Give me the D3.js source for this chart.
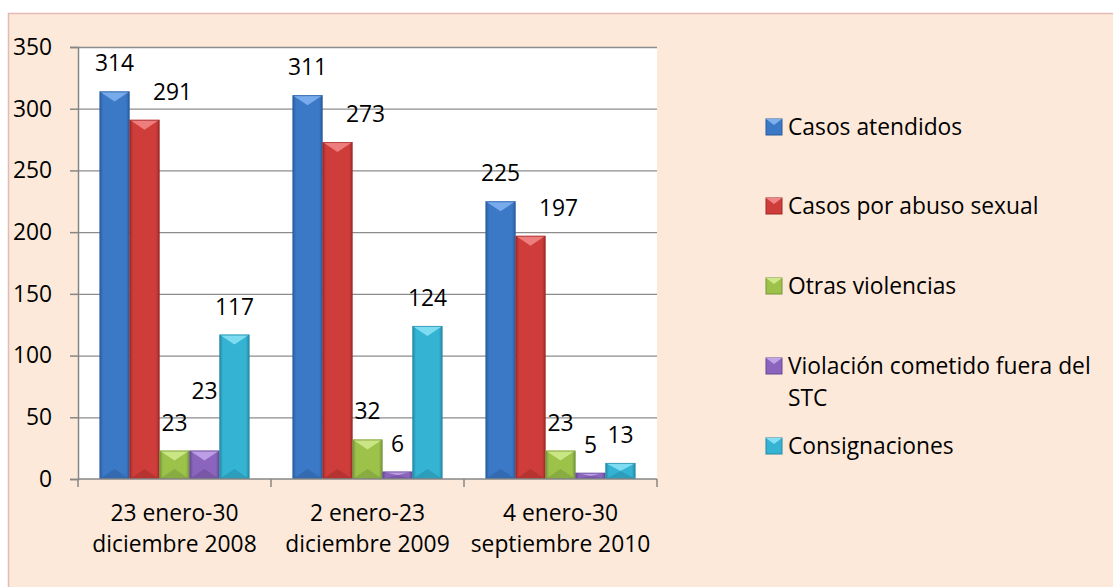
<!DOCTYPE html>
<html lang="es">
<head>
<meta charset="UTF-8" />
<title>Casos atendidos</title>
<script src="https://d3js.org/d3.v7.min.js"></script>
<style>
  html, body { margin: 0; padding: 0; background: #fff; }
  svg { display: block; font-family: "Open Sans", Lato, sans-serif; }
</style>
</head>
<body>
<svg width="1113" height="587"></svg>
<script>
  // data
  const categories = [
    ["23 enero-30", "diciembre 2008"],
    ["2 enero-23", "diciembre 2009"],
    ["4 enero-30", "septiembre 2010"]
  ];
  const seriesNames = [
    "Casos atendidos",
    "Casos por abuso sexual",
    "Otras violencias",
    "Violación cometido fuera del STC",
    "Consignaciones"
  ];
  const casosAtendidos = [314, 311, 225];
  const casosAbuso = [291, 273, 197];
  const otrasViolencias = [23, 32, 23];
  const violacionFuera = [23, 6, 5];
  const consignaciones = [117, 124, 13];
  const yTicks = [0, 50, 100, 150, 200, 250, 300, 350];

  const seriesValues = [casosAtendidos, casosAbuso, otrasViolencias, violacionFuera, consignaciones];
  const colors = [
    { base: "#3b78c6", light: "#7fb0ee", dark: "#2b5c9e" },
    { base: "#cf3d3b", light: "#f08585", dark: "#9e2a28" },
    { base: "#9cc24a", light: "#cfe98a", dark: "#76963a" },
    { base: "#8a64bd", light: "#c0a4e8", dark: "#664a92" },
    { base: "#35b3d3", light: "#86e0f5", dark: "#248aa6" }
  ];
  const fontSize = 22.8;

  const svg = d3.select("svg");
  const W = 1113, H = 587;

  // outer frame
  svg.append("rect").attr("x", 8.5).attr("y", 13.5).attr("width", W).attr("height", H)
    .attr("fill", "#fde9d9").attr("stroke", "#e6b9b8").attr("stroke-width", 1.5);

  const plot = { left: 78, right: 657, top: 47, bottom: 479 };

  const x0 = d3.scaleBand().domain(d3.range(categories.length))
    .range([plot.left, plot.right]);
  const x1 = d3.scaleBand().domain(d3.range(seriesNames.length))
    .range([0, x0.bandwidth()]).paddingInner(0).paddingOuter(0.72);
  const y = d3.scaleLinear().domain([0, 350]).range([plot.bottom, plot.top]);

  svg.append("rect").attr("x", plot.left).attr("y", plot.top)
    .attr("width", plot.right - plot.left).attr("height", plot.bottom - plot.top)
    .attr("fill", "#fff");

  // gridlines
  svg.append("g").selectAll("line").data(yTicks.filter(d => d > 0)).join("line")
    .attr("x1", plot.left).attr("x2", plot.right)
    .attr("y1", d => y(d) + 0.5).attr("y2", d => y(d) + 0.5)
    .attr("stroke", "#8c8c8c").attr("stroke-width", 1.3);

  // gradients
  const defs = svg.append("defs");
  colors.forEach((c, i) => {
    const g = defs.append("linearGradient").attr("id", "grad" + i)
      .attr("x1", "0").attr("x2", "1").attr("y1", "0").attr("y2", "0");
    g.append("stop").attr("offset", "0").attr("stop-color", c.dark);
    g.append("stop").attr("offset", "0.12").attr("stop-color", c.base);
    g.append("stop").attr("offset", "0.5").attr("stop-color", c.base);
    g.append("stop").attr("offset", "0.88").attr("stop-color", c.base);
    g.append("stop").attr("offset", "1").attr("stop-color", c.dark);
  });

  const bars = [];
  seriesValues.forEach((vals, s) => {
    vals.forEach((v, c) => bars.push({ s, c, v }));
  });

  const barG = svg.append("g");
  bars.forEach(d => {
    const bx = x0(d.c) + x1(d.s);
    const bw = x1.bandwidth();
    const top = y(d.v);
    const h = y(0) - top;
    const bev = Math.min(10, h / 2);
    const col = colors[d.s];
    barG.append("rect").attr("x", bx).attr("y", top).attr("width", bw).attr("height", h)
      .attr("fill", `url(#grad${d.s})`);
    // top bevel
    barG.append("path")
      .attr("d", `M${bx},${top}L${bx + bw},${top}L${bx + bw / 2},${top + bev}Z`)
      .attr("fill", col.light).attr("opacity", 0.9);
    // bottom bevel
    barG.append("path")
      .attr("d", `M${bx},${top + h}L${bx + bw},${top + h}L${bx + bw / 2},${top + h - bev}Z`)
      .attr("fill", col.dark).attr("opacity", 0.5);
    barG.append("rect").attr("x", bx + 0.5).attr("y", top + 0.5).attr("width", bw - 1).attr("height", h - 1)
      .attr("fill", "none").attr("stroke", col.dark).attr("stroke-width", 1).attr("opacity", 0.7);
  });

  // data labels: red series labels sit to the right, one purple label is lifted
  const labelDx = [0, 28, 0, 0, 0];
  const labelLift = { "3-0": 32 };
  svg.append("g").selectAll("text").data(bars).join("text")
    .attr("x", d => x0(d.c) + x1(d.s) + x1.bandwidth() / 2 + labelDx[d.s])
    .attr("y", d => y(d.v) - 28 - (labelLift[d.s + "-" + d.c] || 0))
    .attr("dy", "0.35em")
    .attr("text-anchor", "middle")
    .attr("font-size", fontSize).attr("fill", "#000")
    .text(d => d.v);

  // axes
  const axisColor = "#868686";
  const yAxis = svg.append("g").attr("transform", `translate(${plot.left},0)`)
    .call(d3.axisLeft(y).tickValues(yTicks).tickSize(8).tickPadding(18));
  yAxis.select(".domain").attr("stroke", axisColor).attr("stroke-width", 1.5);
  yAxis.selectAll(".tick line").attr("stroke", axisColor).attr("stroke-width", 1.5);
  yAxis.selectAll(".tick text").attr("font-size", fontSize).attr("fill", "#000")
    .attr("font-family", "'Open Sans', sans-serif");

  const xEdges = d3.range(categories.length + 1).map(i => plot.left + i * x0.step());
  const xAxis = svg.append("g");
  xAxis.append("line").attr("x1", plot.left).attr("x2", plot.right)
    .attr("y1", plot.bottom).attr("y2", plot.bottom)
    .attr("stroke", axisColor).attr("stroke-width", 1.5);
  xAxis.selectAll("line.tk").data(xEdges).join("line").attr("class", "tk")
    .attr("x1", d => d).attr("x2", d => d)
    .attr("y1", plot.bottom).attr("y2", plot.bottom + 8)
    .attr("stroke", axisColor).attr("stroke-width", 1.5);
  categories.forEach((lines, i) => {
    const t = xAxis.append("text").attr("text-anchor", "middle")
      .attr("font-size", fontSize).attr("fill", "#000");
    lines.forEach((ln, j) => {
      t.append("tspan").attr("x", x0(i) + x0.bandwidth() / 2)
        .attr("y", 513 + j * 31).attr("dy", "0.35em").text(ln);
    });
  });

  // legend
  const legend = svg.append("g").attr("transform", "translate(766,0)");
  const legendRows = [127, 206, 286, 366, 446];
  const legendLines = [
    ["Casos atendidos"],
    ["Casos por abuso sexual"],
    ["Otras violencias"],
    ["Violación cometido fuera del", "STC"],
    ["Consignaciones"]
  ];
  seriesNames.forEach((name, i) => {
    const row = legend.append("g").attr("transform", `translate(0,${legendRows[i]})`);
    const c = colors[i];
    row.append("rect").attr("x", 0).attr("y", -8).attr("width", 16).attr("height", 16)
      .attr("fill", c.base).attr("stroke", c.dark);
    row.append("path").attr("d", "M0,-8L16,-8L8,-2Z").attr("fill", c.light);
    const t = row.append("text").attr("font-size", fontSize).attr("fill", "#000");
    legendLines[i].forEach((ln, j) => {
      t.append("tspan").attr("x", 22).attr("y", j * 32).attr("dy", "0.35em").text(ln);
    });
  });
</script>
</body>
</html>
